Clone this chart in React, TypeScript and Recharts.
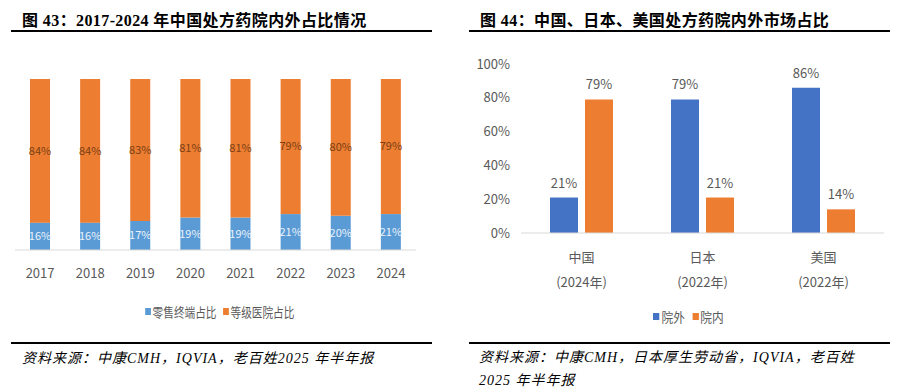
import React from 'react';
import { BarChart, Bar, XAxis, YAxis, LabelList } from 'recharts';

// 图43 data
const years = ['2017', '2018', '2019', '2020', '2021', '2022', '2023', '2024'];
const retailShare = [16, 16, 17, 19, 19, 21, 20, 21];
const hospitalShare = [84, 84, 83, 81, 81, 79, 80, 79];

// 图44 data
const countries = ['中国', '日本', '美国'];
const countryYears = ['(2024年)', '(2022年)', '(2022年)'];
const outsideShare = [21, 79, 86];
const insideShare = [79, 21, 14];
const pctTicks = [0, 20, 40, 60, 80, 100];

const SANS = '"Microsoft YaHei", "Noto Sans CJK SC", "Noto Sans", sans-serif';
const SERIF = '"Liberation Serif", "Noto Sans CJK SC", serif';

const leftData = years.map((y, i) => ({ year: y, retail: retailShare[i], hospital: hospitalShare[i] }));
const rightData = countries.map((c, i) => ({ name: c, sub: countryYears[i], outside: outsideShare[i], inside: insideShare[i] }));

const pct = (v: any) => `${v}%`;

const CountryTick = (props: any) => {
  const { x, y, payload, index } = props;
  return (
    <g>
      <text x={x} y={y + 21} textAnchor="middle" fontSize={13} fill="#595959" fontFamily={SANS}>
        {payload.value}
      </text>
      <text x={x} y={y + 46} textAnchor="middle" fontSize={13} fill="#595959" fontFamily={SANS}>
        {countryYears[index]}
      </text>
    </g>
  );
};

const Title = ({ left, width, num, text }: { left: number; width: number; num: string; text: string }) => (
  <div style={{ position: 'absolute', left, top: 0, width }}>
    <div
      style={{
        position: 'absolute',
        left: 11,
        top: 7,
        fontFamily: SERIF,
        fontWeight: 700,
        fontSize: 16,
        letterSpacing: 0.4,
        whiteSpace: 'nowrap',
        color: '#000',
      }}
    >
      {'图 '}
      {num}
      {'：'}
      {text}
    </div>
    <div style={{ position: 'absolute', left: 0, top: 30, width, height: 2, background: '#000' }} />
  </div>
);

const LegendItem = ({ color, label }: { color: string; label: string }) => (
  <span style={{ display: 'inline-flex', alignItems: 'center', margin: '0 4px' }}>
    <span style={{ width: 7, height: 7, background: color, marginRight: 2, display: 'inline-block' }} />
    <span>{label}</span>
  </span>
);

export default function App() {
  return (
    <div
      style={{
        position: 'absolute',
        left: 0,
        top: 0,
        width: 902,
        height: 391,
        background: '#fff',
        overflow: 'hidden',
        fontFamily: SANS,
      }}
    >
      {/* left panel */}
      <div style={{ position: 'absolute', left: 0, top: 0, width: 451, height: 391 }}>
        <Title left={11} width={421} num="43" text="2017-2024 年中国处方药院内外占比情况" />
        <div style={{ position: 'absolute', left: 0, top: 40 }}>
          <BarChart
            width={440}
            height={300}
            data={leftData}
            margin={{ top: 39, right: 24, left: 15, bottom: 66 }}
            barSize={20}
          >
            <XAxis
              dataKey="year"
              tickLine={false}
              axisLine={{ stroke: '#d9d9d9' }}
              tickMargin={13}
              height={24}
              tick={{ fontSize: 13, fill: '#595959', fontFamily: SANS }}
            />
            <YAxis hide domain={[0, 100]} />
            <Bar dataKey="retail" stackId="a" fill="#5b9bd5" isAnimationActive={false}>
              <LabelList dataKey="retail" position="center" formatter={pct} fill="#eaf2fb" fontSize={11} fontFamily={SANS} />
            </Bar>
            <Bar dataKey="hospital" stackId="a" fill="#ed7d31" isAnimationActive={false}>
              <LabelList dataKey="hospital" position="center" formatter={pct} fill="#7a3f14" fontSize={11} fontFamily={SANS} />
            </Bar>
          </BarChart>
        </div>
        <div
          style={{
            position: 'absolute',
            left: 0,
            width: 440,
            top: 300,
            textAlign: 'center',
            fontSize: 13,
            color: '#595959',
            transform: 'scaleX(0.82)',
            transformOrigin: '219px 0',
          }}
        >
          <LegendItem color="#5b9bd5" label="零售终端占比" />
          <LegendItem color="#ed7d31" label="等级医院占比" />
        </div>
        <div style={{ position: 'absolute', left: 11, top: 342, width: 421, height: 2, background: '#000' }} />
        <div
          style={{
            position: 'absolute',
            left: 22,
            top: 347,
            fontSize: 14,
            fontStyle: 'italic',
            fontFamily: SERIF,
            color: '#000',
            whiteSpace: 'nowrap',
            letterSpacing: 1,
          }}
        >
          资料来源：中康CMH，IQVIA，老百姓2025 年半年报
        </div>
      </div>

      {/* right panel */}
      <div style={{ position: 'absolute', left: 451, top: 0, width: 451, height: 391 }}>
        <Title left={18} width={421} num="44" text="中国、日本、美国处方药院内外市场占比" />
        <div style={{ position: 'absolute', left: 0, top: 40 }}>
          <BarChart
            width={451}
            height={300}
            data={rightData}
            margin={{ top: 24, right: 18, left: 10, bottom: 57 }}
            barSize={28}
            barGap={7}
          >
            <XAxis
              dataKey="name"
              tickLine={false}
              axisLine={{ stroke: '#d9d9d9' }}
              height={50}
              tick={<CountryTick />}
            />
            <YAxis
              domain={[0, 100]}
              ticks={pctTicks}
              tickFormatter={pct}
              axisLine={false}
              tickLine={false}
              width={60}
              tickMargin={5}
              tick={{ fontSize: 13, fill: '#595959', fontFamily: SANS }}
            />
            <Bar dataKey="outside" fill="#4472c4" isAnimationActive={false}>
              <LabelList dataKey="outside" position="top" offset={10} formatter={pct} fill="#595959" fontSize={13} fontFamily={SANS} />
            </Bar>
            <Bar dataKey="inside" fill="#ed7d31" isAnimationActive={false}>
              <LabelList dataKey="inside" position="top" offset={10} formatter={pct} fill="#595959" fontSize={13} fontFamily={SANS} />
            </Bar>
          </BarChart>
        </div>
        <div
          style={{
            position: 'absolute',
            left: 12,
            width: 451,
            top: 305,
            textAlign: 'center',
            fontSize: 13,
            color: '#595959',
            transform: 'scaleX(0.9)',
            transformOrigin: '226px 0',
          }}
        >
          <LegendItem color="#4472c4" label="院外" />
          <LegendItem color="#ed7d31" label="院内" />
        </div>
        <div style={{ position: 'absolute', left: 18, top: 342, width: 421, height: 2, background: '#000' }} />
        <div
          style={{
            position: 'absolute',
            left: 28,
            top: 346,
            width: 420,
            fontSize: 14,
            lineHeight: '23px',
            fontStyle: 'italic',
            fontFamily: SERIF,
            color: '#000',
            letterSpacing: 1,
          }}
        >
          资料来源：中康CMH，日本厚生劳动省，IQVIA，老百姓
          <br />
          2025 年半年报
        </div>
      </div>
    </div>
  );
}
